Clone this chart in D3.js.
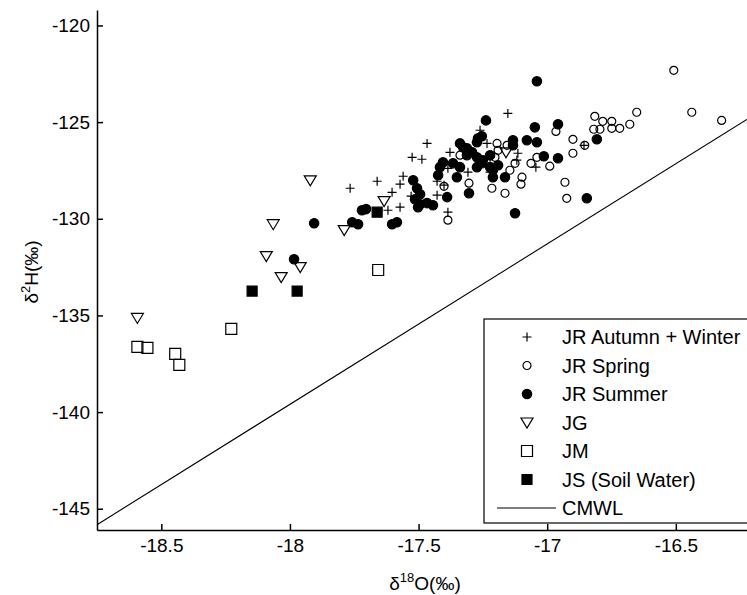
<!DOCTYPE html>
<html>
<head>
<meta charset="utf-8">
<script src="https://cdnjs.cloudflare.com/ajax/libs/d3/7.8.5/d3.min.js"></script>
<style>
  body { margin: 0; background: #fff; }
  svg { display: block; }
  text { font-family: "Liberation Sans", Arial, sans-serif; fill: #000; }
</style>
</head>
<body>
<script>
/******************************************************************************/
/* DATA                                                                       */
/******************************************************************************/
var autumnWinterX = [-17.766, -17.661, -17.603, -17.572, -17.619, -17.525, -17.487, -17.467, -17.560,
  -17.378, -17.428, -17.401, -17.386, -17.428, -17.308, -17.529, -17.261, -17.153, -17.234, -17.222,
  -17.114, -17.044, -16.857, -17.222, -17.386, -17.118, -17.572];
var autumnWinterY = [-128.42, -128.06, -128.63, -129.40, -129.56, -126.82, -126.92, -126.10, -127.80,
  -126.56, -128.06, -128.26, -129.66, -128.78, -127.59, -128.83, -125.42, -124.55, -126.10, -126.82,
  -126.61, -127.33, -126.20, -127.59, -127.39, -126.97, -128.21];

var springX = [-17.401, -17.386, -17.304, -17.195, -17.156, -17.191, -17.203, -17.215, -17.164, -17.145,
  -17.125, -17.098, -17.102, -17.063, -17.040, -16.990, -16.966, -16.900, -16.900, -16.854, -16.931,
  -16.924, -16.815, -16.819, -16.795, -16.749, -16.749, -16.718, -16.679, -16.652, -16.508, -16.438,
  -16.322, -16.784, -17.339];
var springY = [-128.32, -130.07, -128.16, -126.10, -126.20, -126.46, -126.82, -128.42, -128.68, -127.49,
  -127.13, -127.85, -128.21, -127.13, -126.82, -127.28, -125.48, -125.89, -126.61, -126.20, -128.11,
  -128.94, -124.70, -125.37, -125.37, -124.96, -125.32, -125.32, -125.11, -124.49, -122.32, -124.49,
  -124.91, -124.96, -126.71];

var summerX = [-17.984, -17.906, -17.758, -17.735, -17.720, -17.704, -17.603, -17.584, -17.521, -17.506,
  -17.494, -17.514, -17.494, -17.467, -17.444, -17.502, -17.417, -17.405, -17.424, -17.389, -17.339,
  -17.351, -17.304, -17.339, -17.312, -17.292, -17.273, -17.273, -17.273, -17.238, -17.254, -17.366,
  -17.250, -17.222, -17.222, -17.211, -17.191, -17.164, -17.133, -17.125, -17.040, -17.048, -16.958,
  -16.807, -16.958, -17.013, -17.040, -17.079, -17.133, -16.846, -17.211, -17.269, -17.327, -17.312,
  -17.254];
var summerY = [-132.09, -130.23, -130.18, -130.28, -129.56, -129.50, -130.28, -130.18, -128.01, -128.42,
  -128.73, -128.99, -129.25, -129.19, -129.30, -129.40, -127.33, -127.08, -127.75, -128.88, -127.33,
  -127.85, -128.68, -126.10, -126.35, -126.56, -126.04, -126.82, -127.33, -124.91, -125.73, -127.13,
  -126.97, -126.71, -127.33, -127.49, -127.23, -127.85, -125.94, -129.71, -122.89, -125.27, -125.11,
  -125.89, -126.87, -126.77, -126.04, -125.94, -126.20, -128.94, -127.85, -125.84, -126.30, -126.71,
  -127.13];

var jgX = [-18.593, -18.065, -18.092, -18.034, -17.960, -17.921, -17.789, -17.634, -17.160];
var jgY = [-135.13, -130.28, -131.93, -133.02, -132.50, -128.01, -130.59, -129.09, -126.56];

var jmX = [-18.593, -18.554, -18.446, -18.430, -18.228, -17.657];
var jmY = [-136.63, -136.68, -136.99, -137.56, -135.70, -132.65];

var jsX = [-18.147, -17.972, -17.661];
var jsY = [-133.74, -133.74, -129.66];

// CMWL: d2H = slope * d18O + intercept
var cmwlSlope = 8.3;
var cmwlIntercept = 9.8;

var xTicks = [-18.5, -18, -17.5, -17, -16.5];
var yTicks = [-145, -140, -135, -130, -125, -120];
var legendLabels = ["JR Autumn + Winter", "JR Spring", "JR Summer", "JG", "JM", "JS (Soil Water)", "CMWL"];

/******************************************************************************/
/* GLOBAL                                                                     */
/******************************************************************************/
var width  = 747;
var height = 595;
var fontSize = 19;
var legendFontSize = 20;

var x = d3.scaleLinear().domain([-18.75, -16.2]).range([97, 753]);
var y = d3.scaleLinear().domain([-146.1, -119.2]).range([530, 10]);

var plusPath = "M-4.5,0H4.5M0,-4.5V4.5";
var triPath  = "M-6,-4.5L6,-4.5L0,5.5Z";
var sqPath   = "M-5.5,-5.5H5.5V5.5H-5.5Z";
var sqSmall  = "M-5,-5H5V5H-5Z";
var circPath = d3.symbol().type(d3.symbolCircle).size(Math.PI * 16)();
var dotPath  = d3.symbol().type(d3.symbolCircle).size(Math.PI * 22)();

var series = [
  {xs: autumnWinterX, ys: autumnWinterY, d: plusPath, fill: "none"},
  {xs: springX,       ys: springY,       d: circPath, fill: "none"},
  {xs: summerX,       ys: summerY,       d: dotPath,  fill: "#000"},
  {xs: jgX,           ys: jgY,           d: triPath,  fill: "none"},
  {xs: jmX,           ys: jmY,           d: sqPath,   fill: "none"},
  {xs: jsX,           ys: jsY,           d: sqSmall,  fill: "#000"}
];

/******************************************************************************/
/* DRAW                                                                       */
/******************************************************************************/
var svg = d3.select("body").append("svg")
  .attr("width", width)
  .attr("height", height);

// CMWL line
var cmwlData = x.domain().map(function(v) { return [v, cmwlSlope * v + cmwlIntercept]; });
svg.append("path")
  .datum(cmwlData)
  .attr("d", d3.line().x(function(d) { return x(d[0]); }).y(function(d) { return y(d[1]); }))
  .attr("fill", "none")
  .attr("stroke", "#000")
  .attr("stroke-width", 1.1);

// points
series.forEach(function(s) {
  svg.append("g")
    .selectAll("path")
    .data(d3.range(s.xs.length))
    .enter()
    .append("path")
    .attr("d", s.d)
    .attr("transform", function(i) { return "translate(" + x(s.xs[i]) + "," + y(s.ys[i]) + ")"; })
    .attr("fill", s.fill)
    .attr("stroke", "#000")
    .attr("stroke-width", 1.2);
});

// axes (ticks pointing inward)
var xAxis = svg.append("g")
  .attr("transform", "translate(0,530)")
  .call(d3.axisBottom(x).tickValues(xTicks).tickSizeInner(-6).tickSizeOuter(0).tickPadding(9)
    .tickFormat(d3.format("")));
var yAxis = svg.append("g")
  .attr("transform", "translate(97,0)")
  .call(d3.axisLeft(y).tickValues(yTicks).tickSizeInner(-6).tickSizeOuter(0).tickPadding(7)
    .tickFormat(d3.format("")));

[xAxis, yAxis].forEach(function(a) {
  a.selectAll("path, line").attr("stroke", "#000").attr("stroke-width", 1.5);
  a.selectAll("text").attr("font-size", fontSize).attr("font-family", '"Liberation Sans", Arial, sans-serif')
    .text(function(d) { return String(d).replace("-", "-"); });
});

// axis titles
var xt = svg.append("text")
  .attr("x", 425).attr("y", 590)
  .attr("text-anchor", "middle")
  .attr("font-size", fontSize);
xt.append("tspan").text("\u03b4");
xt.append("tspan").attr("dy", -8).attr("font-size", 13).text("18");
xt.append("tspan").attr("dy", 8).text("O(\u2030)");

var yt = svg.append("text")
  .attr("transform", "translate(38,272) rotate(-90)")
  .attr("text-anchor", "middle")
  .attr("font-size", fontSize);
yt.append("tspan").text("\u03b4");
yt.append("tspan").attr("dy", -8).attr("font-size", 13).text("2");
yt.append("tspan").attr("dy", 8).text("H(\u2030)");

// legend
var legend = svg.append("g");
legend.append("rect")
  .attr("x", 484).attr("y", 319)
  .attr("width", 300).attr("height", 204)
  .attr("fill", "#fff")
  .attr("stroke", "#000")
  .attr("stroke-width", 1.2);

var rowY = function(i) { return 337 + i * 28.5; };
legendLabels.forEach(function(label, i) {
  if (i < series.length) {
    legend.append("path")
      .attr("d", series[i].d)
      .attr("transform", "translate(527," + rowY(i) + ")")
      .attr("fill", series[i].fill)
      .attr("stroke", "#000")
      .attr("stroke-width", 1.2);
  } else {
    legend.append("line")
      .attr("x1", 497).attr("x2", 556)
      .attr("y1", rowY(i)).attr("y2", rowY(i))
      .attr("stroke", "#000").attr("stroke-width", 1.1);
  }
  legend.append("text")
    .attr("x", 562).attr("y", rowY(i))
    .attr("dy", "0.35em")
    .attr("font-size", legendFontSize)
    .text(label);
});
</script>
</body>
</html>
